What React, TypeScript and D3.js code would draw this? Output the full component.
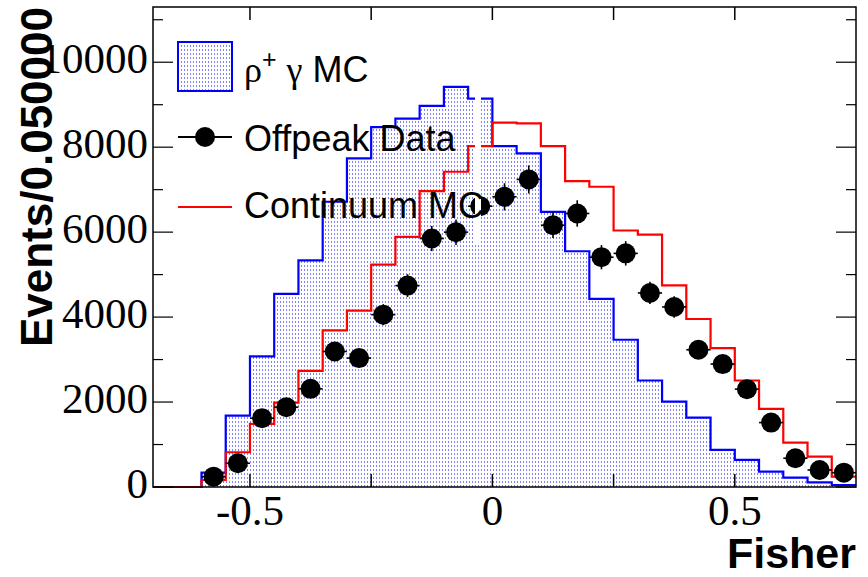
import * as d3 from "d3";

// Fisher discriminant histogram, bins of 0.05 from -0.7 to 0.75
const binEdges = [
  -0.7, -0.65, -0.6, -0.55, -0.5, -0.45, -0.4, -0.35, -0.3, -0.25, -0.2, -0.15,
  -0.1, -0.05, 0, 0.05, 0.1, 0.15, 0.2, 0.25, 0.3, 0.35, 0.4, 0.45, 0.5, 0.55,
  0.6, 0.65, 0.7, 0.75,
];

// rho+ gamma MC (filled, blue)
const signalMC = [
  0, 0, 337, 1682, 3073, 4545, 5337, 6715, 7736, 8474, 8672, 8970, 9418, 9144,
  8026, 7854, 6479, 5550, 4427, 3467, 2507, 2012, 1634, 873, 637, 361, 219, 110,
  47,
];

// Continuum MC (red line)
const continuumMC = [
  0, 0, 165, 818, 1486, 1988, 2736, 3686, 4151, 5236, 5889, 6965, 7422, 8026,
  8580, 8560, 8026, 7200, 7068, 6038, 5943, 4748, 3955, 3271, 2507, 1840, 1045,
  715, 243,
];

// Offpeak data points
const dataX = [
  -0.575, -0.525, -0.475, -0.425, -0.375, -0.325, -0.275, -0.225, -0.175,
  -0.125, -0.075, -0.025, 0.025, 0.075, 0.125, 0.175, 0.225, 0.275, 0.325,
  0.375, 0.425, 0.475, 0.525, 0.575, 0.625, 0.675, 0.725,
];
const dataY = [
  243, 559, 1620, 1880, 2311, 3191, 3035, 4057, 4741, 5850, 6000, 6611, 6832,
  7241, 6163, 6439, 5410, 5500, 4568, 4238, 3231, 2894, 2304, 1517, 677, 401,
  337,
];
const dataErr = [
  60, 92, 156, 168, 186, 219, 213, 247, 267, 296, 300, 315, 320, 330, 304, 311,
  285, 287, 262, 252, 220, 208, 186, 151, 101, 78, 71,
];

const xTicks = [-0.5, -0.25, 0, 0.25, 0.5];
const xTickLabels = ["-0.5", "", "0", "", "0.5"];
const yLabelTicks = [0, 2000, 4000, 6000, 8000, 10000];
const yMinorTicks = [1000, 3000, 5000, 7000, 9000, 11000];

const W = 868;
const H = 577;
const left = 153;
const right = 856;
const top = 7;
const bottom = 487;

const sans = "'Liberation Sans', Arial, Helvetica, sans-serif";
const serif = "'Liberation Serif', 'Times New Roman', Times, serif";

function stepPath(x, y, values) {
  let p = `M${x(binEdges[0])},${y(values[0])}`;
  values.forEach((v, i) => {
    if (i > 0) p += `V${y(v)}`;
    p += `H${x(binEdges[i + 1])}`;
  });
  return p;
}

export default function App() {
  const x = d3.scaleLinear().domain([-0.7, 0.75]).range([left, right]);
  const y = d3.scaleLinear().domain([0, 11300]).range([bottom, top]);
  const halfBin = (x(0.05) - x(0)) / 2;

  const signalLine = stepPath(x, y, signalMC);
  const signalArea = signalLine + `V${y(0)}H${x(binEdges[0])}Z`;
  const contLine = stepPath(x, y, continuumMC);

  return (
    <svg
      width={W}
      height={H}
      style={{ position: "absolute", left: 0, top: 0, background: "white" }}
    >
      <defs>
        <pattern id="dots" width="3" height="4" patternUnits="userSpaceOnUse">
          <rect width="3" height="4" fill="white" />
          <rect x="1" y="1" width="1" height="2" fill="#8080f8" />
        </pattern>
        <clipPath id="frame">
          <rect x={left} y={top} width={right - left} height={bottom - top + 2} />
        </clipPath>
      </defs>

      <g clipPath="url(#frame)">
        <path d={signalArea} fill="url(#dots)" stroke="none" />
        <path d={signalLine} fill="none" stroke="#0000ff" strokeWidth={2.2} />
        <path d={contLine} fill="none" stroke="#ff0000" strokeWidth={2.2} />
        {dataX.map((dx, i) => (
          <g key={i} stroke="black" strokeWidth={1.6}>
            <line
              x1={x(dx)}
              x2={x(dx)}
              y1={y(dataY[i] - dataErr[i])}
              y2={y(dataY[i] + dataErr[i])}
            />
            <line
              x1={x(dx) - halfBin}
              x2={x(dx) + halfBin}
              y1={y(dataY[i])}
              y2={y(dataY[i])}
            />
            <circle cx={x(dx)} cy={y(dataY[i])} r={10} fill="black" stroke="none" />
          </g>
        ))}
      </g>

      {/* white strip left by the legend box */}
      <rect x={475} y={30} width={6} height={215} fill="white" />

      {/* frame */}
      <rect
        x={left}
        y={top}
        width={right - left}
        height={bottom - top}
        fill="none"
        stroke="black"
        strokeWidth={1.5}
      />

      {/* x ticks, bottom and top */}
      {xTicks.map((t, i) => (
        <g key={i} stroke="black" strokeWidth={1.5}>
          <line x1={x(t)} x2={x(t)} y1={bottom} y2={bottom - 13} />
          <line x1={x(t)} x2={x(t)} y1={top} y2={top + 13} />
        </g>
      ))}
      {/* y ticks, left and right */}
      {yLabelTicks.map((t) => (
        <g key={t} stroke="black" strokeWidth={1.2}>
          <line x1={left} x2={left + 20} y1={y(t)} y2={y(t)} />
          <line x1={right} x2={right - 20} y1={y(t)} y2={y(t)} />
        </g>
      ))}
      {yMinorTicks.map((t) => (
        <g key={t} stroke="black" strokeWidth={1.2}>
          <line x1={left} x2={left + 10} y1={y(t)} y2={y(t)} />
          <line x1={right} x2={right - 10} y1={y(t)} y2={y(t)} />
        </g>
      ))}

      {/* tick labels */}
      {xTicks.map((t, i) =>
        xTickLabels[i] ? (
          <text
            key={i}
            x={x(t)}
            y={525}
            textAnchor="middle"
            fontFamily={serif}
            fontSize={43}
          >
            {xTickLabels[i]}
          </text>
        ) : null
      )}
      {yLabelTicks.map((t) => (
        <text
          key={t}
          x={148}
          y={y(t) + 11}
          textAnchor="end"
          fontFamily={serif}
          fontSize={43}
        >
          {t}
        </text>
      ))}

      {/* axis titles */}
      <text
        x={right}
        y={568}
        textAnchor="end"
        fontFamily={sans}
        fontWeight="bold"
        fontSize={43}
      >
        Fisher
      </text>
      <text
        transform={`translate(52,${top}) rotate(-90)`}
        textAnchor="end"
        fontFamily={sans}
        fontWeight="bold"
        fontSize={44}
      >
        Events/0.050000
      </text>

      {/* legend */}
      <g fontFamily={sans} fontSize={36}>
        <rect
          x={178}
          y={42}
          width={54}
          height={49}
          fill="url(#dots)"
          stroke="#0000ff"
          strokeWidth={2}
        />
        <text x={244} y={82}>
          <tspan fontFamily={serif}>ρ</tspan>
          <tspan fontSize={25} dy={-14}>
            +
          </tspan>
          <tspan dy={14}> </tspan>
          <tspan fontFamily={serif}>γ</tspan>
          <tspan> MC</tspan>
        </text>

        <line x1={178} x2={232} y1={137} y2={137} stroke="black" strokeWidth={2} />
        <circle cx={205} cy={137} r={10} fill="black" />
        <text x={244} y={151}>
          Offpeak Data
        </text>

        <line x1={178} x2={232} y1={207} y2={207} stroke="#ff0000" strokeWidth={2.2} />
        <text x={244} y={218}>
          Continuum MC
        </text>
      </g>
    </svg>
  );
}
